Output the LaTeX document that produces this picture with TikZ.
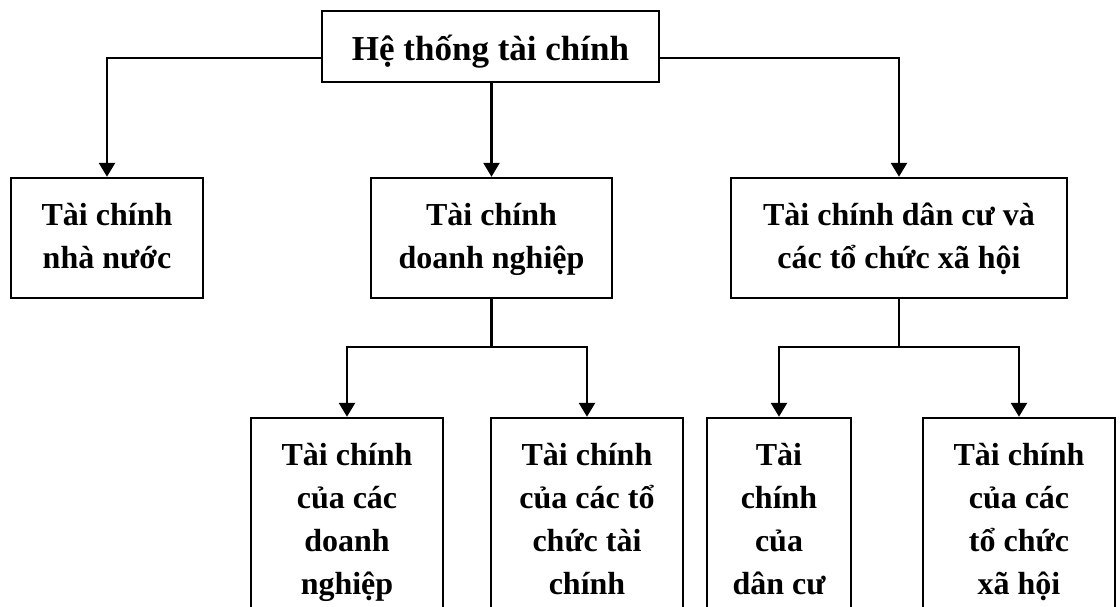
\documentclass[tikz,border=0pt]{standalone}
\usepackage{fontspec}
\setmainfont{Liberation Serif}
\usetikzlibrary{arrows.meta}
\newcommand\sline[1]{\strut #1}
\tikzset{
  box/.style={draw=black, line width=2.4pt, fill=white, inner sep=0pt, align=center,
    font=\fontsize{32}{43}\selectfont\bfseries},
  conn/.style={draw=black, line width=2.4pt},
  arr/.style={conn, -{Triangle[width=16pt,length=14pt]}},
}
\begin{document}
\begin{tikzpicture}[x=1pt,y=-1pt]
\useasboundingbox (0,0) rectangle (1120,607);
\clip (0,0) rectangle (1120,607);
\coordinate (ly) at (0,58);
\coordinate (ly2) at (0,347);
% title
\node[box, minimum width=337pt, minimum height=71pt, text height=28pt, text depth=0pt,
  font=\fontsize{35}{42}\selectfont\bfseries] (title) at (490.5,46.5) {Hệ thống tài chính};
% level 1
\node[box, minimum width=192pt, minimum height=120pt] (b1) at (107,238)
  {\sline{Tài chính}\\\sline{nhà nước}};
\node[box, minimum width=241pt, minimum height=120pt] (b2) at (491.5,238)
  {\sline{Tài chính}\\\sline{doanh nghiệp}};
\node[box, minimum width=336pt, minimum height=120pt] (b3) at (899,238)
  {\sline{Tài chính dân cư và}\\\sline{các tổ chức xã hội}};
% level 2
\node[box, minimum width=192pt, minimum height=206pt] (b4) at (347,521)
  {\sline{Tài chính}\\\sline{của các}\\\sline{doanh}\\\sline{nghiệp}};
\node[box, minimum width=192pt, minimum height=206pt] (b5) at (587,521)
  {\sline{Tài chính}\\\sline{của các tổ}\\\sline{chức tài}\\\sline{chính}};
\node[box, minimum width=144pt, minimum height=206pt] (b6) at (779,521)
  {\sline{Tài}\\\sline{chính}\\\sline{của}\\\sline{dân cư}};
\node[box, minimum width=192pt, minimum height=206pt] (b7) at (1019,521)
  {\sline{Tài chính}\\\sline{của các}\\\sline{tổ chức}\\\sline{xã hội}};
% connectors
\draw[arr] (title.west |- ly) -| (b1.north);
\draw[arr] (title.south -| b2.north) -- (b2.north);
\draw[arr] (title.east |- ly) -| (b3.north);
\coordinate (j1) at (b2.south |- ly2);
\coordinate (j2) at (b3.south |- ly2);
\draw[conn] (b2.south) -- (j1);
\draw[arr] (j1) -| (b4.north);
\draw[arr] (j1) -| (b5.north);
\draw[conn] (b3.south) -- (j2);
\draw[arr] (j2) -| (b6.north);
\draw[arr] (j2) -| (b7.north);
\end{tikzpicture}
\end{document}
